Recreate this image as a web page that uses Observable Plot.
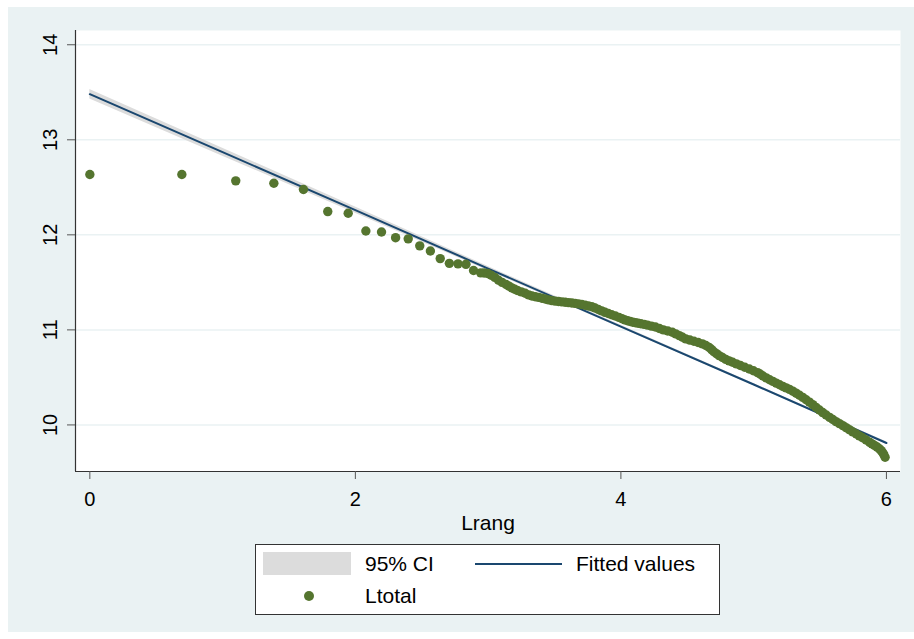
<!DOCTYPE html>
<html><head><meta charset="utf-8">
<script src="https://cdn.jsdelivr.net/npm/d3@7"></script>
<script src="https://cdn.jsdelivr.net/npm/@observablehq/plot@0.6"></script>
<style>
body{margin:0;background:#fff;font-family:"Liberation Sans",Arial,sans-serif;}
#bg{position:absolute;left:8px;top:7px;width:906px;height:625px;background:#eaf2f3;}
#chart{position:absolute;left:0;top:0;}
#legend{position:absolute;left:255px;top:544px;width:465px;height:71px;border:1px solid #333;background:#fff;box-sizing:border-box;}
#legend .sw{position:absolute;}
#legend .lab{position:absolute;font-size:21px;line-height:24px;color:#000;}
</style></head>
<body>
<div id="bg"></div>
<div id="chart"></div>
<div id="legend">
  <div class="sw" style="left:7px;top:7px;width:88px;height:23px;background:#dcdcdc"></div>
  <div class="lab" style="left:109px;top:7px">95% CI</div>
  <div class="sw" style="left:219px;top:18px;width:87px;height:2px;background:#1a476f"></div>
  <div class="lab" style="left:320px;top:7px">Fitted values</div>
  <div class="sw" style="left:48px;top:46px;width:10px;height:10px;border-radius:50%;background:#55752f"></div>
  <div class="lab" style="left:109px;top:39px">Ltotal</div>
</div>
<script>
// Scatter: Ltotal vs Lrang
const ptX = [0, 0.693, 1.099, 1.386, 1.609, 1.792, 1.946, 2.079, 2.197, 2.303, 2.398, 2.485, 2.565, 2.639, 2.708, 2.773, 2.833, 2.890,
  2.944, 2.970, 2.996, 3.023, 3.050, 3.078, 3.105, 3.135, 3.157, 3.179,
  3.200, 3.220, 3.250, 3.279, 3.305, 3.330, 3.355, 3.380, 3.405, 3.430,
  3.455, 3.480, 3.505, 3.530, 3.555, 3.580, 3.605, 3.630, 3.655, 3.680,
  3.705, 3.730, 3.755, 3.780, 3.805, 3.830, 3.855, 3.880, 3.905, 3.930,
  3.958, 3.985, 4.008, 4.030, 4.050, 4.070, 4.090, 4.110, 4.130, 4.150,
  4.175, 4.200, 4.230, 4.260, 4.290, 4.320, 4.353, 4.387, 4.413, 4.440,
  4.464, 4.488, 4.519, 4.550, 4.582, 4.614, 4.640, 4.665, 4.683, 4.700,
  4.720, 4.740, 4.765, 4.790, 4.815, 4.841, 4.870, 4.900, 4.933, 4.967,
  4.998, 5.030, 5.050, 5.070, 5.095, 5.120, 5.145, 5.170, 5.195, 5.220,
  5.245, 5.270, 5.295, 5.320, 5.345, 5.370, 5.395, 5.420, 5.445, 5.470,
  5.495, 5.520, 5.546, 5.572, 5.596, 5.620, 5.646, 5.672, 5.696, 5.720,
  5.746, 5.773, 5.796, 5.820, 5.847, 5.874, 5.892, 5.910, 5.930, 5.949,
  5.960, 5.970, 5.980, 5.990];
const ptY = [12.635, 12.635, 12.568, 12.543, 12.477, 12.245, 12.227, 12.04, 12.03, 11.97, 11.958, 11.884, 11.83, 11.75, 11.70, 11.695, 11.69, 11.625,
  11.600, 11.598, 11.594, 11.575, 11.552, 11.522, 11.500, 11.478, 11.460, 11.442,
  11.428, 11.415, 11.400, 11.385, 11.368, 11.356, 11.349, 11.342, 11.333, 11.325,
  11.316, 11.308, 11.303, 11.299, 11.295, 11.291, 11.287, 11.283, 11.279, 11.274,
  11.267, 11.259, 11.252, 11.244, 11.230, 11.215, 11.200, 11.185, 11.172, 11.159,
  11.146, 11.132, 11.118, 11.105, 11.096, 11.088, 11.081, 11.075, 11.070, 11.065,
  11.058, 11.050, 11.040, 11.030, 11.015, 11.000, 10.988, 10.975, 10.958, 10.940,
  10.922, 10.905, 10.893, 10.880, 10.867, 10.853, 10.836, 10.815, 10.793, 10.770,
  10.750, 10.729, 10.709, 10.690, 10.674, 10.659, 10.642, 10.625, 10.607, 10.589,
  10.570, 10.550, 10.533, 10.515, 10.495, 10.475, 10.458, 10.440, 10.423, 10.405,
  10.390, 10.374, 10.355, 10.334, 10.312, 10.290, 10.265, 10.240, 10.213, 10.185,
  10.157, 10.130, 10.105, 10.080, 10.057, 10.035, 10.014, 9.993, 9.972, 9.950,
  9.927, 9.905, 9.885, 9.865, 9.841, 9.817, 9.801, 9.785, 9.767, 9.747,
  9.730, 9.712, 9.690, 9.660];
// Fitted values and 95% CI half-width
const fitX = [0, 1, 2, 3, 4, 5, 6];
const fitY = [13.48, 12.87, 12.26, 11.645, 11.035, 10.425, 9.81];
const ciHalf = [0.05, 0.042, 0.032, 0.022, 0.014, 0.01, 0.014];
const xTicks = [0, 2, 4, 6];
const yTicks = [10, 11, 12, 13, 14];

const pts = ptX.map((x, i) => ({x, y: ptY[i]}));
const fit = fitX.map((x, i) => ({x, y: fitY[i], lo: fitY[i] - ciHalf[i], hi: fitY[i] + ciHalf[i]}));
const xDomain = [-0.108, 6.106], yDomain = [9.51, 14.15];

const chart = Plot.plot({
  width: 914, height: 540,
  marginLeft: 75, marginRight: 14, marginTop: 30, marginBottom: 69,
  style: {background: "transparent", fontFamily: "'Liberation Sans', Arial, sans-serif", fontSize: "20px", color: "#000"},
  x: {domain: xDomain},
  y: {domain: yDomain},
  marks: [
    Plot.frame({fill: "white", stroke: "none"}),
    Plot.gridY(yTicks, {stroke: "#eaf2f3", strokeOpacity: 1, strokeWidth: 1.5}),
    Plot.areaY(fit, {x: "x", y1: "lo", y2: "hi", fill: "#dcdcdc"}),
    Plot.lineY(fit, {x: "x", y: "y", stroke: "#1a476f", strokeWidth: 2}),
    Plot.dot(pts, {x: "x", y: "y", r: 4.7, fill: "#55752f", stroke: "none"}),
    Plot.ruleX([xDomain[0]], {stroke: "#333", strokeWidth: 1.2}),
    Plot.ruleY([yDomain[0]], {stroke: "#333", strokeWidth: 1.2}),
    Plot.axisY(yTicks, {tickSize: 8, tickPadding: 11, tickRotate: -90, tickFormat: "d", stroke: "#555", label: null}),
    Plot.axisX(xTicks, {tickSize: 8, tickPadding: 12, tickFormat: "d", stroke: "#555", label: "Lrang", labelAnchor: "center", labelArrow: "none", labelOffset: 58, fontSize: 20})
  ]
});
chart.querySelectorAll("text").forEach(t => { if (t.textContent === "Lrang") t.style.fontSize = "21px"; });
document.getElementById("chart").appendChild(chart);
</script>
</body></html>
